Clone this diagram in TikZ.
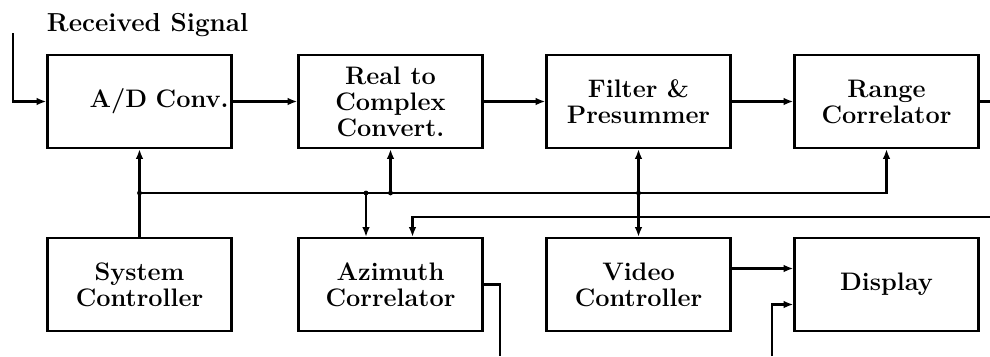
\documentclass[tikz,border=0pt]{standalone}
\usetikzlibrary{arrows.meta}

\begin{document}
\begin{tikzpicture}[x=0.025cm, y=-0.025cm,
    blk/.style={draw, line width=1.6pt, minimum width=4.6cm, minimum height=2.325cm, align=center, font=\fontsize{18}{18.5}\selectfont\bfseries},
    wire/.style={line width=1.6pt},
    arr/.style={wire, -{Latex[length=7pt, width=5.5pt]}},
    biarr/.style={wire, {Latex[length=7pt, width=5.5pt]}-{Latex[length=7pt, width=5.5pt]}}]
                \useasboundingbox (0,0) rectangle (990,356);
                \node[anchor=base west, font=\fontsize{18.5}{18}\selectfont\bfseries] (rxlbl) at (42,31) {Received Signal};
                \node[blk, text width=4.45cm, inner xsep=1pt, align=right] (adc) at (139.5,101.5) {A/D Conv.};
                \node[blk, inner ysep=1pt] (r2c) at (390.5,101.5) {Real to\\Complex\\Convert.};
                \node[blk] (fps) at (638.5,101.5) {Filter \&\\Presummer};
                \node[blk] (rng) at (886.5,101.5) {Range\\Correlator};
                \node[blk] (sys) at (139.5,284.5) {System\\Controller};
                \node[blk] (azc) at (390.5,284.5) {Azimuth\\Correlator};
                \node[blk] (vid) at (638.5,284.5) {Video\\Controller};
                \node[blk] (dsp) at (886.5,284.5) {Display};
                \coordinate (rxin) at (13,33);
                \coordinate (rngout) at (990,101.5);
                \coordinate (rngret) at (990,217);
                \coordinate (azout) at (500,356);
                \coordinate (dspin) at (772,356);
                \coordinate (bus) at (139.5,193);
                \coordinate (jr) at (390.5,193);
                \coordinate (ja) at (366,193);
                \coordinate (jf) at (638.5,193);
                \draw[arr] (rxin) |- (adc.west);
                \draw[arr] (adc.east) -- (r2c.west);
                \draw[arr] (r2c.east) -- (fps.west);
                \draw[arr] (fps.east) -- (rng.west);
                \draw[wire] (rng.east) -- (rngout);
                \draw[arr] (sys.north) -- (adc.south);
                \draw[arr] (bus) -| (rng.south);
                \draw[arr] (jr) -- (r2c.south);
                \draw[arr] (ja) -- (ja |- azc.north);
                \draw[arr] (rngret) -| ([xshift=0.55cm]azc.north);
                \draw[biarr] (fps.south) -- (vid.north);
                \draw[wire] (azc.east) -| (azout);
                \draw[arr] ([yshift=0.4cm]vid.east) -- ([yshift=0.4cm]dsp.west);
                \draw[arr] (dspin) |- ([yshift=-0.5cm]dsp.west);
                \foreach \j in {bus, jr, ja, jf}
                    \fill (\j) circle (2.4);
            \end{tikzpicture}
\end{document}
